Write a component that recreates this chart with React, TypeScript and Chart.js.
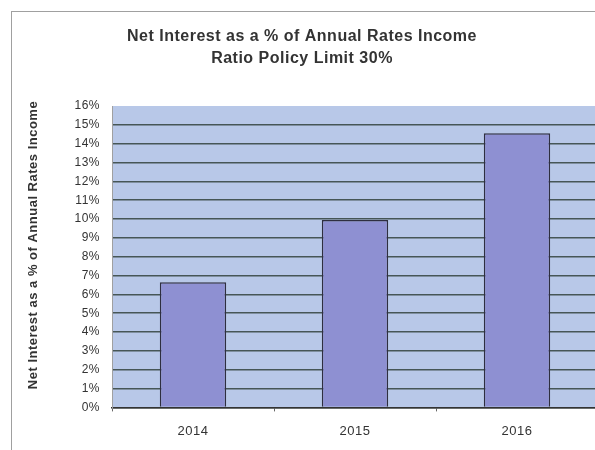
import React, { useEffect, useRef } from "react";
import { Chart, registerables } from "chart.js";

Chart.register(...registerables);

const categories = ["2014", "2015", "2016"];
const values = [6.65, 9.95, 14.55];
const titleLines = ["Net Interest as a % of Annual Rates Income", "Ratio Policy Limit 30%"];
const yAxisTitle = "Net Interest as a % of Annual Rates Income";
const yMax = 16;

const FONT = "'Liberation Sans', Arial, sans-serif";

export default function App() {
  const ref = useRef<HTMLCanvasElement | null>(null);

  useEffect(() => {
    if (!ref.current) return;
    const bgPlugin = {
      id: "plotBg",
      beforeDraw(chart: any) {
        const { ctx, chartArea: a } = chart;
        (ctx as any).letterSpacing = "0.5px";
        ctx.save();
        ctx.fillStyle = "#b8c8e8";
        ctx.fillRect(a.left, a.top, a.right - a.left, a.bottom - a.top);
        ctx.restore();
      },
      afterDraw(chart: any) {
        const { ctx } = chart;
        ctx.save();
        ctx.translate(33, 245);
        ctx.rotate(-Math.PI / 2);
        ctx.font = `bold 13px ${FONT}`;
        ctx.fillStyle = "#333333";
        ctx.textAlign = "center";
        ctx.textBaseline = "middle";
        ctx.fillText(yAxisTitle, 0, 0);
        ctx.restore();
      },
    };
    const chart = new Chart(ref.current, {
      type: "bar",
      data: {
        labels: categories,
        datasets: [
          {
            data: values,
            backgroundColor: "#8e90d2",
            borderColor: "#2e2e40",
            borderWidth: 1.5,
            barPercentage: 0.41,
            categoryPercentage: 1,
          },
        ],
      },
      plugins: [bgPlugin],
      options: {
        animation: false,
        responsive: false,
        devicePixelRatio: 1,
        layout: { padding: { left: 6, right: 2, top: 0, bottom: 0 } },
        plugins: {
          legend: { display: false },
          tooltip: { enabled: false },
          title: {
            display: true,
            text: titleLines,
            color: "#333333",
            font: { family: FONT, size: 16, weight: "bold", lineHeight: 22 / 16 },
            padding: { top: 26, bottom: 36 },
          },
        },
        scales: {
          x: {
            grid: {
              display: true,
              drawOnChartArea: false,
              drawTicks: true,
              tickLength: 4,
              color: "#666666",
              offset: true,
            },
            border: { display: true, color: "#333333", width: 1.5 },
            ticks: {
              color: "#333333",
              font: { family: FONT, size: 13 },
              padding: 12,
            },
          },
          y: {
            min: 0,
            max: yMax,
            afterFit(scale: any) {
              scale.width = 106;
            },
            grid: {
              drawTicks: false,
              color: (c: any) => (c.tick && c.tick.value === yMax ? "rgba(0,0,0,0)" : "#465656"),
              lineWidth: 1.5,
            },
            border: { display: true, color: "#a0a0a0", width: 1 },
            ticks: {
              stepSize: 1,
              color: "#333333",
              font: { family: FONT, size: 12 },
              padding: 12,
              callback: (v: any) => `${v}%`,
            },
          },
        },
      },
    });
    return () => chart.destroy();
  }, []);

  return (
    <div
      style={{
        position: "fixed",
        left: 0,
        top: 0,
        width: 595,
        height: 450,
        overflow: "hidden",
        background: "#ffffff",
      }}
    >
      <div
        style={{
          position: "absolute",
          left: 11,
          top: 11,
          width: 700,
          height: 700,
          borderLeft: "1px solid #a0a0a0",
          borderTop: "1px solid #a0a0a0",
        }}
      />
      <canvas ref={ref} width={600} height={451} style={{ position: "absolute", left: 0, top: 0 }} />
    </div>
  );
}
